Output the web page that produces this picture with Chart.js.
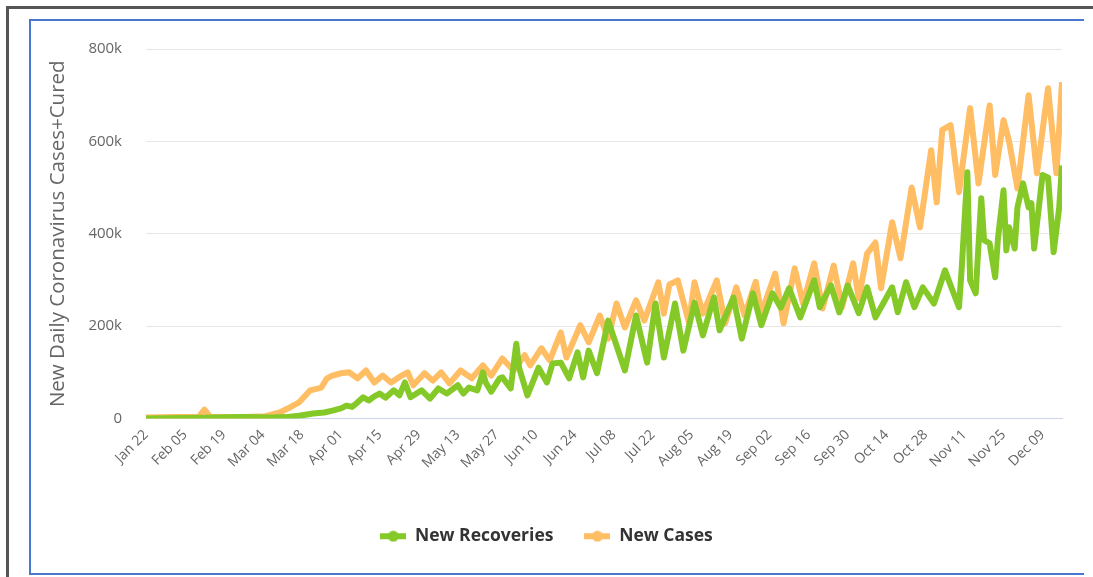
<!doctype html>
<html lang="en">
<head>
  <meta charset="utf-8">
  <title>New Daily Coronavirus Cases + Cured</title>
  <script src="https://cdn.jsdelivr.net/npm/chart.js"></script>
  <style>
    body { margin: 0; background: #fff; overflow: hidden; }
    .outer { position: absolute; left: 6px; top: 6px; width: 1200px; height: 700px;
             border-top: 3px solid #555; border-left: 3px solid #555; }
    .frame { position: absolute; left: 29px; top: 19px; width: 1053px; height: 552px;
             border-top: 2px solid #4a78d0; border-left: 2px solid #4a78d0; border-bottom: 2px solid #4a78d0; }
    #covidChart { position: absolute; left: 31px; top: 22px; }
  </style>
</head>
<body>
<div class="outer"></div>
<div class="frame"></div>
<canvas id="covidChart" width="1052" height="560"></canvas>

<script>
  // x values are days since Jan 22, y values in thousands
  const tickLabels = ['Jan 22', 'Feb 05', 'Feb 19', 'Mar 04', 'Mar 18', 'Apr 01', 'Apr 15', 'Apr 29',
    'May 13', 'May 27', 'Jun 10', 'Jun 24', 'Jul 08', 'Jul 22', 'Aug 05', 'Aug 19', 'Sep 02',
    'Sep 16', 'Sep 30', 'Oct 14', 'Oct 28', 'Nov 11', 'Nov 25', 'Dec 09'];

  const recoveryDays = [0, 15, 25, 35, 45, 50, 55, 60, 64, 67, 70, 72, 74, 76, 78, 80, 82, 84, 86, 89,
    91, 93, 95, 99, 102, 105, 108, 112, 114, 116, 119, 121, 122, 124, 127, 128, 131, 133, 134, 137,
    141, 144, 146, 149, 152, 155, 157, 159, 162, 166, 172, 176, 180, 183, 186, 190, 193, 197, 200,
    204, 206, 211, 214, 218, 221, 225, 228, 231, 235, 240, 242, 246, 249, 252, 256, 259, 262, 268,
    270, 273, 276, 279, 283, 287, 289, 292, 293, 295, 296, 298, 300, 301, 303, 305, 306, 308, 309,
    310, 312, 313, 315, 317, 318, 319, 322, 324, 326, 328, 329];
  const recoveryValues = [0, 1, 2, 3, 2, 3, 6, 11, 13, 17, 22, 28, 25, 35, 46, 39, 48, 54, 45, 61,
    50, 78, 46, 61, 43, 65, 54, 72, 54, 67, 61, 100, 78, 58, 87, 89, 65, 162, 110, 50,
    110, 78, 119, 121, 87, 143, 89, 147, 98, 212, 104, 223, 121, 249, 132, 249, 147, 251, 180,
    262, 191, 262, 173, 271, 202, 271, 240, 282, 219, 299, 241, 288, 230, 288, 228, 284, 219, 284,
    230, 295, 241, 284, 249, 321, 288, 241, 327, 533, 299, 271, 477, 386, 379, 306, 390, 494, 364,
    414, 368, 457, 509, 457, 466, 368, 527, 522, 360, 457, 548];

  const caseDays = [0, 10, 19, 21, 23, 35, 43, 48, 52, 55, 59, 63, 65, 67, 70, 73, 76, 79, 82, 85,
    88, 91, 94, 96, 100, 103, 106, 109, 113, 117, 121, 124, 128, 132, 136, 138, 142, 145, 149, 151,
    156, 159, 163, 166, 169, 172, 176, 179, 184, 186, 188, 191, 195, 197, 200, 205, 208, 212, 215,
    219, 221, 226, 229, 233, 236, 240, 243, 247, 250, 254, 256, 259, 262, 264, 268, 271, 275, 278,
    282, 284, 286, 289, 292, 296, 299, 303, 305, 308, 310, 313, 317, 320, 324, 327, 329];
  const caseValues = [2, 3, 4, 19, 4, 3, 5, 13, 25, 35, 61, 67, 87, 93, 98, 100, 87, 104, 78, 93,
    78, 90, 100, 72, 98, 82, 100, 76, 104, 87, 115, 93, 130, 104, 137, 115, 152, 126, 186, 132,
    202, 165, 223, 173, 249, 197, 256, 212, 295, 227, 290, 299, 208, 295, 227, 299, 206, 284, 223,
    296, 228, 314, 206, 325, 249, 336, 238, 331, 241, 336, 260, 357, 381, 282, 425, 347, 500, 414,
    581, 468, 625, 635, 490, 672, 509, 678, 527, 646, 600, 498, 700, 531, 715, 531, 728];

  const toPoints = (days, vals) => days.map((d, i) => ({ x: d, y: vals[i] }));

  function legendIcon(color) {
    const c = document.createElement('canvas');
    c.width = 26; c.height = 12;
    const g = c.getContext('2d');
    g.strokeStyle = color; g.lineWidth = 6;
    g.beginPath(); g.moveTo(0, 6); g.lineTo(26, 6); g.stroke();
    g.fillStyle = color;
    g.beginPath(); g.arc(13, 6, 5.5, 0, Math.PI * 2); g.fill();
    return c;
  }

  const green = 'rgb(133, 201, 40)';
  const orange = 'rgb(255, 189, 100)';

  new Chart(document.getElementById('covidChart'), {
    type: 'line',
    data: {
      datasets: [{
        label: 'New Recoveries',
        data: toPoints(recoveryDays, recoveryValues),
        borderColor: green,
        backgroundColor: green,
        borderWidth: 6,
        pointRadius: 0,
        pointStyle: legendIcon(green),
        borderJoinStyle: 'round',
        tension: 0
      }, {
        label: 'New Cases',
        data: toPoints(caseDays, caseValues),
        borderColor: orange,
        backgroundColor: orange,
        borderWidth: 6,
        pointRadius: 0,
        pointStyle: legendIcon(orange),
        borderJoinStyle: 'round',
        tension: 0
      }]
    },
    options: {
      responsive: false,
      animation: false,
      layout: { padding: { left: 0, right: 21, top: 27, bottom: 27 } },
      plugins: {
        tooltip: { enabled: false },
        legend: {
          position: 'bottom',
          labels: {
            usePointStyle: true,
            pointStyleWidth: 26,
            padding: 31,
            color: '#333',
            font: { family: 'Open Sans', size: 17.5, weight: 'bold' }
          }
        }
      },
      scales: {
        x: {
          type: 'linear',
          min: 0,
          max: 329,
          afterBuildTicks: s => { s.ticks = tickLabels.map((_, i) => ({ value: i * 14 })); },
          afterFit: s => { s.height = 78; },
          grid: { display: false, drawTicks: false },
          border: { color: '#ccd6eb', width: 1 },
          ticks: {
            autoSkip: false,
            minRotation: 45,
            maxRotation: 45,
            padding: 8,
            color: '#666',
            font: { family: 'Open Sans', size: 14 },
            callback: v => tickLabels[v / 14]
          }
        },
        y: {
          min: 0,
          max: 800,
          afterFit: s => { s.width = 115; s.paddingTop = 0; s.paddingBottom = 0; },
          grid: { color: '#e6e6e6', drawTicks: false },
          border: { display: false },
          ticks: {
            stepSize: 200,
            padding: 24,
            color: '#666',
            font: { family: 'Open Sans', size: 15 },
            callback: v => v === 0 ? '0' : v + 'k'
          },
          title: {
            display: true,
            text: 'New Daily Coronavirus Cases+Cured',
            color: '#666',
            font: { family: 'Open Sans', size: 20.5 },
            padding: { top: 15, bottom: 0 }
          }
        }
      }
    }
  });
</script>
</body>
</html>
